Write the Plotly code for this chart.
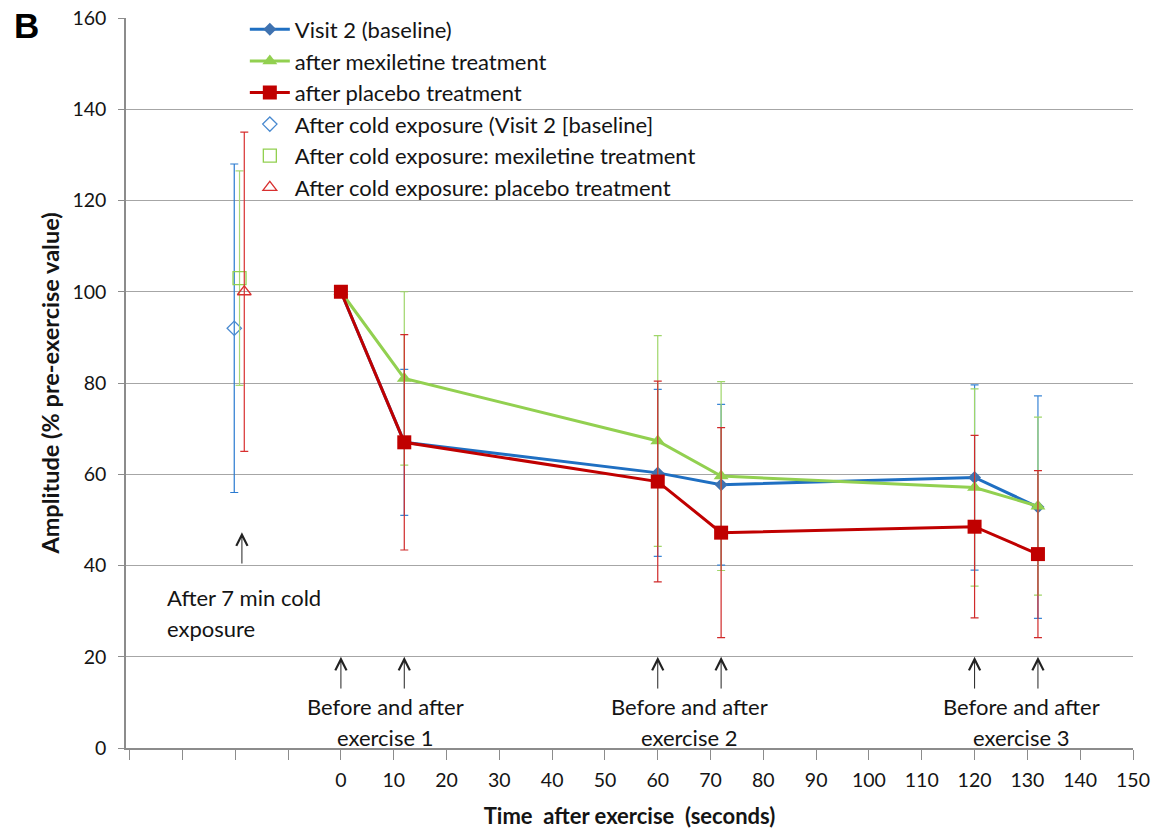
import plotly.graph_objects as go

# ---- data ----
times = [0, 12, 60, 72, 120, 132]
visit2 = [100, 67.0, 60.3, 57.7, 59.3, 52.8]
visit2_err = [None, 16.0, 18.3, 17.6, 20.3, 24.4]
mexiletine = [100, 81.0, 67.3, 59.6, 57.1, 53.0]
mexiletine_err = [None, 19.0, 23.1, 20.7, 21.6, 19.5]
placebo = [100, 67.0, 58.4, 47.2, 48.5, 42.5]
placebo_err = [None, 23.6, 22.0, 23.0, 20.0, 18.3]

cold_x = [-20.2, -19.2, -18.3]
cold_vals = [92, 103, 100]
cold_err = [36, 23.5, 35]
cold_names = ["After cold exposure (Visit 2 [baseline]",
              "After cold exposure: mexiletine treatment",
              "After cold exposure: placebo treatment"]

x_tickvals = list(range(-40, 151, 10))
x_ticktext = ["" if v < 0 else str(v) for v in x_tickvals]
y_tickvals = list(range(0, 161, 20))

exercise_arrow_x = [0, 12, 60, 72, 120, 132]
exercise_label_x = [8.4, 66.0, 128.8]
exercise_labels = ["exercise 1", "exercise 2", "exercise 3"]

FONT = "Lato"
TXT = "#141414"
BLUE = "#1F6FC2"
BLUE_M = "#3F72B0"
GREEN = "#92D050"
RED = "#C00000"
NB = "\u00a0"

fig = go.Figure()

main = [
    ("Visit 2 (baseline)", visit2, visit2_err, BLUE, BLUE_M, "diamond", 10, "#3A86D6"),
    ("after mexiletine treatment", mexiletine, mexiletine_err, GREEN, GREEN, "triangle-up", 13, "#9FD66A"),
    ("after placebo treatment", placebo, placebo_err, RED, RED, "square", 14, "#D02A2A"),
]
for i, (name, vals, errs, lc, mc, sym, sz, ec) in enumerate(main):
    fig.add_trace(go.Scatter(
        x=times, y=vals, name=name, mode="lines+markers",
        legendgroup=f"g{i}",
        line=dict(color=lc, width=3),
        marker=dict(color=mc, symbol=sym, size=sz),
        error_y=dict(type="data", array=errs, visible=True, color=ec, thickness=1.2, width=4),
    ))

cold_styles = [
    ("diamond-open", "#4A8AD0", 11, "#2A7AD0"),
    ("square-open", GREEN, 13, "#A8D878"),
    ("triangle-up-open", "#D83030", 12, "#D83030"),
]
for i, (nm, xv, yv, ev) in enumerate(zip(cold_names, cold_x, cold_vals, cold_err)):
    sym, col, sz, ec = cold_styles[i]
    fig.add_trace(go.Scatter(
        x=[xv], y=[yv], name=nm, mode="markers",
        legendgroup=f"c{i}",
        marker=dict(symbol=sym, color=col, size=sz, line=dict(width=1.3, color=col)),
        error_y=dict(type="data", array=[ev], visible=True, color=ec, thickness=1.2, width=4),
    ))

TF = dict(family=FONT, size=22, color=TXT)
annotations = []
for xa in exercise_arrow_x:
    annotations.append(dict(x=xa, y=20, ax=xa, ay=12.7, xref="x", yref="y", axref="x", ayref="y",
                            text="", showarrow=True, arrowhead=5, arrowsize=2.2, arrowwidth=1,
                            arrowcolor="#222"))
for xl, lab in zip(exercise_label_x, exercise_labels):
    annotations.append(dict(x=xl, y=9.0, xref="x", yref="y", text="Before and after", showarrow=False,
                            font=TF, xanchor="center", yanchor="middle"))
    annotations.append(dict(x=xl, y=2.4, xref="x", yref="y", text=lab, showarrow=False,
                            font=TF, xanchor="center", yanchor="middle"))
annotations.append(dict(x=-18.75, y=47.3, ax=-18.75, ay=40.1, xref="x", yref="y", axref="x", ayref="y",
                        text="", showarrow=True, arrowhead=5, arrowsize=2.2, arrowwidth=1, arrowcolor="#222"))
annotations.append(dict(x=-33.3, y=32.9, xref="x", yref="y", text="After 7 min cold", showarrow=False,
                        font=TF, xanchor="left", yanchor="middle"))
annotations.append(dict(x=-33.3, y=26.3, xref="x", yref="y", text="exposure", showarrow=False,
                        font=TF, xanchor="left", yanchor="middle"))
annotations.append(dict(x=-0.113, y=0.99, xref="paper", yref="paper", text="<b>B</b>", showarrow=False,
                        font=dict(family="Liberation Sans", size=35, color="black"),
                        xanchor="left", yanchor="middle"))

fig.update_layout(
    width=1159, height=830,
    margin=dict(l=126, r=26, t=18, b=82, autoexpand=False),
    paper_bgcolor="white", plot_bgcolor="white",
    font=dict(family=FONT, size=20, color=TXT),
    showlegend=True,
    legend=dict(x=0.118, y=1.013, xanchor="left", yanchor="top", bgcolor="rgba(0,0,0,0)",
                font=dict(family=FONT, size=22, color=TXT), tracegroupgap=0,
                itemwidth=40),
    annotations=annotations,
    xaxis=dict(range=[-40.7, 150], tickvals=x_tickvals, ticktext=x_ticktext,
               showgrid=False, zeroline=False, showline=True, linecolor="#8C8C8C", linewidth=1.5,
               ticks="outside", ticklen=10, tickcolor="#8C8C8C", tickwidth=1,
               ticklabelstandoff=4, automargin=False,
               tickfont=dict(family=FONT, size=19.5, color=TXT),
               title=dict(text=f"<b>Time{NB} after exercise{NB} (seconds)</b>",
                          font=dict(family=FONT, size=22, color=TXT), standoff=18)),
    yaxis=dict(range=[0, 160], tickvals=y_tickvals, showgrid=True, gridcolor="#A6A6A6", gridwidth=1,
               zeroline=False, showline=True, linecolor="#8C8C8C", linewidth=1.5,
               ticks="outside", ticklen=6, tickcolor="#8C8C8C",
               ticklabelstandoff=8, automargin=False,
               tickfont=dict(family=FONT, size=19.5, color=TXT),
               title=dict(text="<b>Amplitude (% pre-exercise value)</b>",
                          font=dict(family=FONT, size=23.5, color=TXT), standoff=6)),
)

fig.write_html("out.html")
